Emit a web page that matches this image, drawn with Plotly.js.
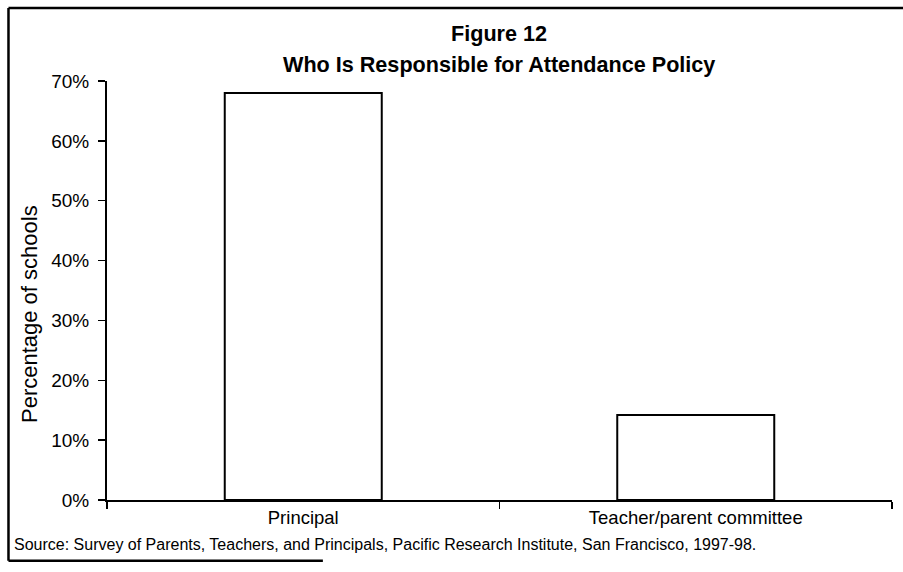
<!DOCTYPE html>
<html>
<head>
<meta charset="utf-8">
<script src="https://cdn.plot.ly/plotly-3.0.1.min.js"></script>
<style>html,body{margin:0;padding:0;background:#fff;}#chart{width:903px;height:572px;}</style>
</head>
<body>
<div id="chart"></div>
<script>
const categories = ["Principal", "Teacher/parent committee"];
const values = [68, 14.2];
const yTickVals = [0, 10, 20, 30, 40, 50, 60, 70];
const yTickText = ["0%", "10%", "20%", "30%", "40%", "50%", "60%", "70%"];
const titleLines = ["Figure 12", "Who Is Responsible for Attendance Policy"];
const yTitle = "Percentage of schools";
const sourceText = "Source: Survey of Parents, Teachers, and Principals, Pacific Research Institute, San Francisco, 1997-98.";

const font = "Liberation Sans, Arial, sans-serif";

const trace = {
  type: "bar",
  x: categories,
  y: values,
  width: 0.4,
  marker: {color: "#ffffff", line: {color: "#000000", width: 2}},
  hoverinfo: "skip"
};

const layout = {
  width: 903, height: 572,
  margin: {l: 107, r: 11, t: 81, b: 72},
  paper_bgcolor: "#ffffff", plot_bgcolor: "#ffffff",
  showlegend: false,
  font: {family: font, color: "#000"},
  xaxis: {
    type: "category",
    showline: true, linecolor: "#000", linewidth: 2,
    ticks: "outside", tickson: "boundaries", ticklen: 7, tickwidth: 1.5, tickcolor: "#000",
    tickfont: {family: font, size: 18.5, color: "#000"},
    showgrid: false, zeroline: false,
    fixedrange: true
  },
  yaxis: {
    range: [0, 70],
    tickvals: yTickVals, ticktext: yTickText,
    showline: true, linecolor: "#000", linewidth: 2,
    ticks: "outside", ticklen: 7, tickwidth: 1.5, tickcolor: "#000",
    ticklabelstandoff: 5,
    tickfont: {family: font, size: 19, color: "#000"},
    showgrid: false, zeroline: false,
    fixedrange: true
  },
  annotations: [
    {
      xref: "paper", yref: "paper", x: 0.4994, y: 1.1134, xanchor: "center", yanchor: "middle",
      text: "<b>" + titleLines[0] + "</b>", showarrow: false,
      font: {family: font, size: 21.6, color: "#000"}
    },
    {
      xref: "paper", yref: "paper", x: 0.4994, y: 1.0382, xanchor: "center", yanchor: "middle",
      text: "<b>" + titleLines[1] + "</b>", showarrow: false,
      font: {family: font, size: 21.6, color: "#000"}
    },
    {
      xref: "paper", yref: "paper", x: -0.098, y: 0.444, xanchor: "center", yanchor: "middle",
      text: yTitle, textangle: -90, showarrow: false,
      font: {family: font, size: 22, color: "#000"}
    },
    {
      xref: "paper", yref: "paper",
      x: -0.121, y: -0.107, xanchor: "left", yanchor: "middle",
      text: sourceText, showarrow: false,
      font: {family: font, size: 16, color: "#000"}
    }
  ],
  shapes: [
    {type: "line", xref: "paper", yref: "paper", x0: -0.1255, x1: 1.02, y0: 1.174, y1: 1.174, line: {color: "#000", width: 2.5}},
    {type: "line", xref: "paper", yref: "paper", x0: -0.1255, x1: -0.1255, y0: 1.174, y1: -0.145, line: {color: "#000", width: 2.5}},
    {type: "line", xref: "paper", yref: "paper", x0: -0.1255, x1: 0.275, y0: -0.145, y1: -0.145, line: {color: "#000", width: 2.5}}
  ]
};

Plotly.newPlot("chart", [trace], layout, {displayModeBar: false, staticPlot: true});
</script>
</body>
</html>
